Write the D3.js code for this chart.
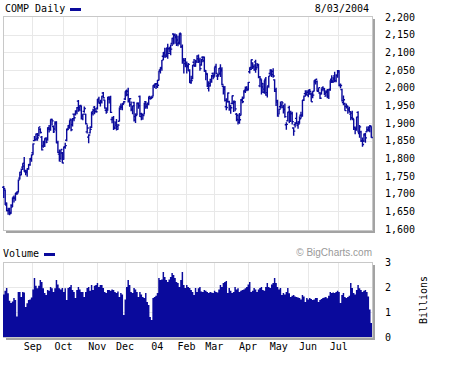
<!DOCTYPE html>
<html>
<head>
<meta charset="utf-8">
<script src="https://cdn.jsdelivr.net/npm/d3@7"></script>
<style>
  body { margin: 0; background: #fff; }
  text { font-family: "DejaVu Sans Mono", monospace; font-size: 10px; fill: #000; }
</style>
</head>
<body>
<div class="chart"></div>
<script>
;(function(window, document, undefined) {

	'use strict';

	// trading days 8/04/2003 .. 8/03/2004, one entry per day (points / billions)
	var opens = [
		1718,1710,1668,1652,1656,1647,1667,1690,1687,1702,1705,1744,1753,1775,1786,1762,1760,1770,1783,1797,
		1816,1850,1853,1855,1865,1882,1860,1835,1840,1857,1852,1883,1882,1910,1890,1883,1898,1845,1812,1798,1815,
		1797,1832,1851,1883,1888,1911,1895,1925,1925,1932,1962,1944,1948,1920,1933,1925,1875,1860,1872,1888,1927,1945,1940,
		1942,1962,1956,1962,1985,1965,1936,1936,1968,1970,1910,1915,1888,1894,1890,1905,1947,1948,1955,
		1968,1990,1990,1963,1952,1938,1958,1918,1925,1955,1975,1926,1924,1925,1960,1946,1954,1970,1970,1976,2006,2011,
		2011,2021,2050,2055,2089,2098,2092,2112,2110,2097,2125,2152,2149,2145,2135,2128,2151,2117,2080,2077,
		2064,2059,2048,2019,2025,2072,2062,2073,2082,2078,2064,2086,2086,2049,2040,1998,2012,2016,2040,
		2034,2060,2033,2036,2040,2052,2004,1999,1946,1960,1960,1950,1955,1955,1958,1925,1922,1908,1922,1964,1970,1989,1998,
		1996,2045,2052,2070,2059,2073,2057,2063,2005,2022,2012,1987,2024,1986,2005,2040,2049,2046,2022,1995,1963,
		1925,1946,1950,1945,1938,1895,1906,1944,1905,1928,1886,1895,1913,1893,1903,1922,1920,1964,1983,1980,
		1979,1993,1982,1979,1990,2016,2017,1990,1985,1982,2000,1997,1976,1990,1976,1996,2024,2019,2033,2020,2034,
		2044,2006,1995,1958,1955,1947,1948,1940,1925,1928,1910,1888,1880,1930,1870,1875,1850,1849,1866,1875,1881,
		1880,1890
	];
	var highs = [
		1722,1712,1675,1660,1660,1670,1689,1695,1702,1706,1740,1762,1771,1786,1804,1768,1772,1784,1801,1811,
		1842,1863,1870,1872,1889,1885,1863,1850,1857,1860,1888,1894,1910,1912,1893,1905,1905,1850,1825,1825,1818,
		1833,1844,1884,1894,1908,1912,1914,1926,1936,1945,1965,1951,1949,1926,1947,1926,1896,1868,1890,1932,1940,1948,1942,
		1968,1974,1966,1977,1988,1966,1944,1974,1976,1977,1918,1920,1905,1911,1897,1944,1955,1956,1962,
		1990,1995,2000,1971,1961,1949,1960,1927,1958,1958,1978,1929,1925,1957,1962,1958,1975,1975,1976,2007,2010,2012,
		2022,2048,2058,2078,2101,2113,2112,2124,2116,2122,2141,2154,2153,2151,2147,2154,2154,2122,2084,2084,
		2074,2070,2052,2034,2064,2081,2079,2092,2094,2085,2082,2089,2088,2050,2041,2018,2025,2036,2043,
		2058,2068,2039,2056,2066,2058,2006,2005,1970,1986,1963,1951,1978,1964,1962,1928,1925,1928,1968,1975,1993,2003,2004,
		2016,2058,2080,2072,2066,2079,2070,2068,2033,2024,2013,2021,2030,2004,2033,2052,2050,2055,2024,2000,1966,
		1940,1961,1962,1952,1955,1902,1932,1949,1935,1932,1888,1903,1930,1905,1919,1932,1965,1978,1993,1993,
		1994,1996,1986,1990,2021,2024,2020,2000,1988,1998,2004,1999,1992,1996,1996,2021,2035,2030,2045,2038,2050,
		2049,2012,1997,1978,1957,1955,1949,1946,1933,1935,1912,1890,1918,1933,1894,1878,1859,1870,1872,1890,1891,
		1894,1891
	];
	var lows = [
		1688,1668,1650,1640,1639,1643,1662,1675,1680,1696,1703,1740,1752,1767,1762,1752,1748,1768,1779,1790,
		1810,1848,1850,1850,1862,1870,1822,1830,1832,1843,1850,1873,1878,1893,1872,1878,1843,1815,1791,1796,1786,
		1796,1827,1848,1880,1884,1877,1890,1905,1921,1925,1932,1933,1910,1908,1929,1896,1870,1843,1870,1886,1921,1925,1929,
		1938,1955,1947,1955,1969,1940,1926,1935,1955,1928,1899,1880,1883,1879,1881,1904,1937,1936,1953,
		1965,1976,1958,1946,1933,1925,1904,1900,1922,1940,1917,1908,1909,1924,1940,1940,1950,1966,1968,1975,1999,1996,
		1999,2020,2040,2048,2078,2085,2087,2082,2100,2092,2118,2122,2124,2118,2117,2122,2112,2068,2040,2058,
		2040,2047,2013,2011,2024,2059,2059,2070,2070,2048,2062,2072,2045,2021,2002,1989,2003,2014,2024,
		2031,2038,2022,2035,2030,2007,1981,1961,1936,1958,1935,1926,1954,1931,1933,1905,1896,1898,1921,1956,1969,1985,1990,
		1992,2040,2050,2053,2048,2042,2055,2027,2001,1981,1985,1983,1977,1972,2000,2034,2030,2028,1988,1948,1918,
		1924,1940,1942,1927,1915,1881,1904,1900,1903,1896,1864,1887,1897,1884,1898,1913,1918,1962,1975,1978,
		1973,1980,1960,1970,1989,2009,1989,1987,1968,1981,1990,1979,1974,1970,1968,1991,2013,2014,2015,2015,2028,
		2004,1998,1961,1950,1935,1941,1926,1929,1908,1910,1880,1868,1878,1873,1858,1846,1833,1846,1844,1874,1876,
		1874,1858
	];
	var closes = [
		1714,1673,1652,1652,1644,1662,1687,1687,1700,1702,1739,1761,1769,1778,1765,1764,1771,1782,1800,1810,
		1841,1853,1869,1858,1889,1873,1824,1846,1855,1846,1887,1883,1910,1906,1875,1902,1844,1817,1792,1825,1787,
		1832,1836,1881,1893,1908,1881,1912,1915,1934,1943,1939,1950,1912,1925,1941,1898,1886,1866,1882,1932,1936,1933,1932,
		1968,1958,1959,1976,1971,1942,1931,1973,1967,1930,1910,1884,1900,1882,1894,1943,1944,1953,1960,
		1990,1980,1960,1969,1938,1949,1908,1921,1956,1949,1918,1924,1921,1956,1951,1956,1975,1969,1973,2006,2009,2003,
		2007,2047,2057,2078,2100,2087,2112,2097,2111,2109,2140,2148,2142,2124,2125,2154,2116,2077,2068,2066,
		2063,2066,2014,2020,2064,2061,2075,2090,2074,2054,2080,2076,2046,2038,2008,2005,2023,2033,2030,
		2058,2040,2033,2055,2048,2009,1995,1964,1944,1985,1939,1943,1977,1962,1940,1910,1902,1909,1967,1960,1993,2001,1994,
		2015,2057,2079,2060,2050,2053,2065,2030,2025,2002,1996,2020,1979,2004,2033,2050,2037,2033,1990,1959,1920,
		1939,1950,1957,1938,1918,1896,1931,1926,1926,1904,1877,1898,1898,1897,1912,1923,1965,1976,1985,1987,
		1991,1989,1960,1979,2021,2024,1991,2000,1970,1996,1998,1984,1987,1974,1994,2021,2016,2025,2020,2035,2048,
		2007,2006,1963,1966,1935,1946,1937,1932,1915,1913,1883,1884,1917,1874,1889,1849,1839,1869,1858,1881,1887,
		1892,1859
	];
	var volumes = [
		1.70,1.85,1.96,1.75,1.45,1.36,1.42,1.56,1.48,0.82,1.80,1.80,1.60,1.80,1.78,1.20,1.35,1.48,1.50,1.58,
		1.90,2.36,2.05,1.95,2.05,2.28,2.20,1.95,1.76,1.68,1.88,1.85,2.00,1.95,1.80,1.95,2.28,2.10,1.95,1.90,1.96,
		1.80,1.95,1.48,1.96,2.00,2.08,1.88,1.80,1.56,1.88,2.00,1.90,1.80,1.80,1.60,1.80,1.96,2.00,1.85,2.08,1.88,2.05,2.08,
		2.16,2.00,2.08,2.08,1.96,1.80,1.76,1.88,1.88,1.85,1.90,1.88,1.80,1.76,1.82,1.60,1.76,1.70,0.88,
		1.50,2.00,2.28,2.08,1.80,1.76,1.96,1.90,1.80,1.60,1.80,1.70,1.60,1.56,1.76,1.40,1.28,0.80,0.68,1.56,1.60,1.65,
		1.76,2.36,2.28,2.30,2.60,2.40,2.28,2.20,2.30,2.40,2.56,2.48,2.36,2.20,2.16,2.00,2.28,2.60,2.08,1.96,
		2.08,2.00,1.96,1.88,1.80,1.68,1.96,1.80,1.95,2.00,1.82,1.80,1.88,1.85,1.80,1.76,1.80,1.78,1.76,
		1.85,1.80,1.78,1.90,2.08,2.00,2.16,2.20,2.24,1.76,1.96,1.85,1.76,1.80,2.00,1.90,1.95,1.80,1.85,1.88,1.90,1.95,2.00,
		2.10,2.20,1.80,1.85,1.96,1.90,1.80,1.90,1.96,2.00,1.88,1.85,2.00,2.16,2.00,1.96,2.10,2.16,2.36,2.16,2.00,
		1.90,1.96,1.68,1.76,1.70,1.80,1.96,1.75,1.60,1.65,1.68,1.62,1.60,1.58,1.56,1.50,1.68,1.62,1.40,1.56,
		1.50,1.56,1.52,1.48,1.50,1.56,1.56,1.40,1.48,1.52,1.56,1.58,1.60,1.55,1.65,1.80,1.76,1.78,1.76,1.80,1.85,
		1.80,1.36,1.68,1.76,1.60,1.56,1.60,1.65,2.16,1.96,1.76,1.70,1.88,2.08,1.95,1.88,1.80,1.85,1.88,1.80,1.62,
		1.10,0.56
	];

	// first trading day of each labelled month
	var monthLabels = ['Sep','Oct','Nov','Dec','04','Feb','Mar','Apr','May','Jun','Jul'];
	var monthStarts = [20, 41, 64, 83, 105, 125, 144, 167, 188, 208, 229];

	var priceTicks = d3.range(1600, 2201, 50);
	var volumeTicks = [0, 1, 2, 3];

	var W = 452, H = 366;
	var left = 3, right = 372;
	var pTop = 16, pBot = 230;
	var vTop = 262, vBot = 337;
	var blue = '#0a0a9c';

	function init() {
		render();
	}

	function frame(svg, y0, y1) {
		svg.append('rect')
			.attr('x', left + 3).attr('y', y0 + 3)
			.attr('width', right - left).attr('height', y1 - y0)
			.attr('fill', '#a3a3a3');
		svg.append('rect')
			.attr('x', left + 0.5).attr('y', y0 + 0.5)
			.attr('width', right - left).attr('height', y1 - y0)
			.attr('fill', '#fff').attr('stroke', '#c8c8c8');
	}

	function grid(svg, x, y, ticks, y0, y1) {
		var g = svg.append('g')
			.attr('stroke', '#e8e8e8')
			.attr('shape-rendering', 'crispEdges');
		g.selectAll('line.h')
			.data(ticks.slice(1, -1))
			.enter()
			.append('line')
			.attr('x1', left + 1).attr('x2', right)
			.attr('y1', function(d) { return Math.round(y(d)) + 0.5; })
			.attr('y2', function(d) { return Math.round(y(d)) + 0.5; });
		g.selectAll('line.v')
			.data(monthStarts)
			.enter()
			.append('line')
			.attr('y1', y0 + 1).attr('y2', y1)
			.attr('x1', function(d) { return Math.round(x(d)) + 0.5; })
			.attr('x2', function(d) { return Math.round(x(d)) + 0.5; });
	}

	function render() {
		var N = closes.length;
		var svg = d3.select('.chart')
			.append('svg')
			.attr('width', W)
			.attr('height', H);

		var x = d3.scaleLinear().domain([0, N]).range([left, right]);
		var y = d3.scaleLinear().domain([1600, 2200]).range([229, 17]);
		var yv = d3.scaleLinear().domain([0, 3]).range([vBot, vTop]);

		// header
		svg.append('text').attr('x', 5).attr('y', 12).text('COMP Daily');
		svg.append('rect').attr('x', 70).attr('y', 8).attr('width', 11).attr('height', 3).attr('fill', blue);
		svg.append('text').attr('x', 369).attr('y', 12).attr('text-anchor', 'end').text('8/03/2004');

		// price panel
		frame(svg, pTop, pBot);
		grid(svg, x, y, priceTicks, pTop, pBot);

		svg.append('g')
			.attr('stroke', blue)
			.attr('stroke-width', 1.4)
			.attr('fill', 'none')
			.selectAll('path')
			.data(d3.range(N))
			.enter()
			.append('path')
			.attr('d', function(i) {
				var cx = x(i + 0.5);
				return 'M' + cx + ',' + y(highs[i]) + 'V' + y(lows[i]) +
					'M' + (cx - 1.6) + ',' + y(opens[i]) + 'H' + cx +
					'M' + cx + ',' + y(closes[i]) + 'H' + (cx + 1.6);
			});

		svg.append('g')
			.attr('transform', 'translate(376,0)')
			.call(d3.axisRight(y).tickValues(priceTicks).tickFormat(d3.format(',')).tickSize(0).tickPadding(9))
			.call(function(g) {
				g.select('.domain').remove();
				g.selectAll('text').attr('font-family', null).attr('font-size', null);
			});

		// volume panel
		svg.append('text').attr('x', 3).attr('y', 257).text('Volume');
		svg.append('rect').attr('x', 44).attr('y', 253).attr('width', 11).attr('height', 3).attr('fill', blue);
		svg.append('text')
			.attr('x', 372).attr('y', 256)
			.attr('text-anchor', 'end')
			.style('font-family', '"Liberation Sans", Arial, sans-serif')
			.style('fill', '#999')
			.text('\u00a9 BigCharts.com');

		frame(svg, vTop, vBot);
		grid(svg, x, yv, volumeTicks, vTop, vBot);

		var pts = d3.range(N + 1);
		var area = d3.area()
			.curve(d3.curveStepAfter)
			.x(function(i) { return x(i); })
			.y0(yv(0))
			.y1(function(i) { return yv(volumes[Math.min(i, N - 1)]); });
		svg.append('path')
			.datum(pts)
			.attr('d', area)
			.attr('fill', blue);

		svg.append('g')
			.attr('transform', 'translate(376,0)')
			.call(d3.axisRight(yv).tickValues(volumeTicks).tickFormat(d3.format('d')).tickSize(0).tickPadding(9))
			.call(function(g) {
				g.select('.domain').remove();
				g.selectAll('text').attr('font-family', null).attr('font-size', null);
			});

		svg.append('text')
			.attr('transform', 'translate(427,300) rotate(-90)')
			.attr('text-anchor', 'middle')
			.text('Billions');

		// month labels
		svg.append('g')
			.attr('transform', 'translate(0,' + vBot + ')')
			.call(d3.axisBottom(x).tickValues(monthStarts).tickFormat(function(d, i) { return monthLabels[i]; }).tickSize(0).tickPadding(6))
			.call(function(g) {
				g.select('.domain').remove();
				g.selectAll('text').attr('font-family', null).attr('font-size', null);
			});
	}

	init();

})(window, document);
</script>
</body>
</html>
